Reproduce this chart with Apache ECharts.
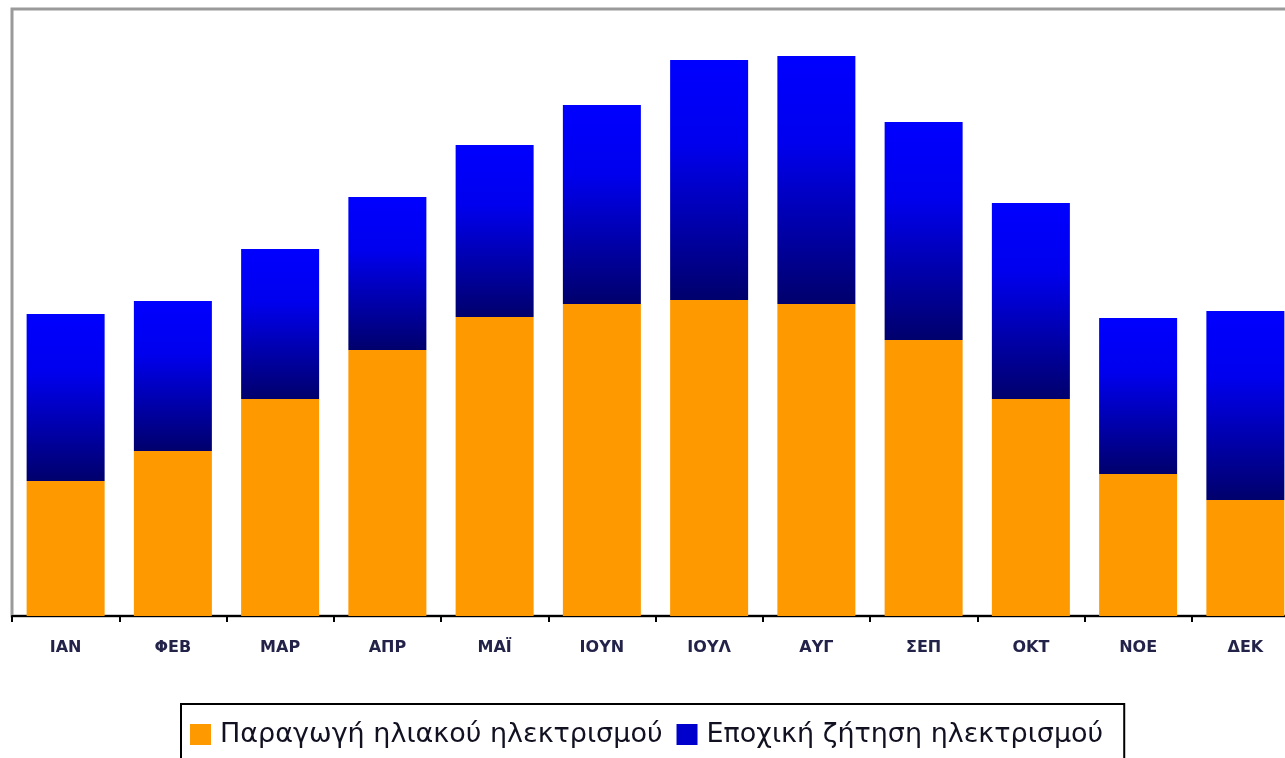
<!DOCTYPE html>
<html>
<head>
<meta charset="utf-8">
<script src="https://cdn.jsdelivr.net/npm/echarts@6/dist/echarts.min.js"></script>
<style>
  html, body { margin: 0; padding: 0; background: #ffffff; }
  #chart { width: 1285px; height: 758px; }
</style>
</head>
<body>
<div id="chart"></div>
<script>
// Monthly categories (Greek abbreviations)
const months = ['ΙΑΝ', 'ΦΕΒ', 'ΜΑΡ', 'ΑΠΡ', 'ΜΑΪ', 'ΙΟΥΝ', 'ΙΟΥΛ', 'ΑΥΓ', 'ΣΕΠ', 'ΟΚΤ', 'ΝΟΕ', 'ΔΕΚ'];

// Solar electricity production (bottom segment)
const solarProduction = [135, 165, 217, 266, 299, 312, 316, 312, 276, 217, 142, 116];

// Seasonal electricity demand (top segment, stacked on production)
const seasonalDemand = [167, 150, 150, 153, 172, 199, 240, 248, 218, 196, 156, 189];

const seriesNames = ['Παραγωγή ηλιακού ηλεκτρισμού', 'Εποχική ζήτηση ηλεκτρισμού'];

const chart = echarts.init(document.getElementById('chart'), null, { renderer: 'canvas' });

const blueGradient = new echarts.graphic.LinearGradient(0, 0, 0, 1, [
  { offset: 0, color: '#0000ff' },
  { offset: 0.35, color: '#0000ee' },
  { offset: 1, color: '#00006c' }
]);

chart.setOption({
  animation: false,
  backgroundColor: '#ffffff',
  grid: {
    left: 12,
    top: 9,
    width: 1287,
    height: 607,
    containLabel: false,
    outerBoundsMode: 'none',
    show: true,
    borderColor: '#9a9a9a',
    borderWidth: 3,
    backgroundColor: 'transparent'
  },
  legend: {
    left: 181,
    top: 704,
    orient: 'horizontal',
    itemWidth: 21,
    itemHeight: 21,
    itemGap: 14,
    padding: [17, 21, 40, 9],
    borderColor: '#000000',
    borderWidth: 2,
    icon: 'rect',
    textStyle: {
      fontFamily: 'DejaVu Sans, sans-serif',
      fontSize: 27,
      color: '#111122',
      padding: [0, 0, 0, 4]
    },
    data: [
      { name: seriesNames[0], itemStyle: { color: '#ff9900' } },
      { name: seriesNames[1], itemStyle: { color: '#0000cc' } }
    ]
  },
  xAxis: {
    type: 'category',
    data: months,
    boundaryGap: true,
    axisLine: { show: true, lineStyle: { color: '#000000', width: 2 } },
    axisTick: { show: true, length: 6, lineStyle: { color: '#000000', width: 2 } },
    axisLabel: {
      margin: 24,
      fontFamily: 'DejaVu Sans, sans-serif',
      fontWeight: 'bold',
      fontSize: 16,
      color: '#23234a'
    },
    splitLine: { show: false }
  },
  yAxis: {
    type: 'value',
    min: 0,
    max: 607,
    show: false,
    splitLine: { show: false }
  },
  series: [
    {
      name: seriesNames[0],
      type: 'bar',
      stack: 'total',
      barWidth: 78,
      itemStyle: { color: '#ff9900' },
      data: solarProduction
    },
    {
      name: seriesNames[1],
      type: 'bar',
      stack: 'total',
      barWidth: 78,
      itemStyle: { color: blueGradient },
      data: seasonalDemand
    }
  ]
});
</script>
</body>
</html>
